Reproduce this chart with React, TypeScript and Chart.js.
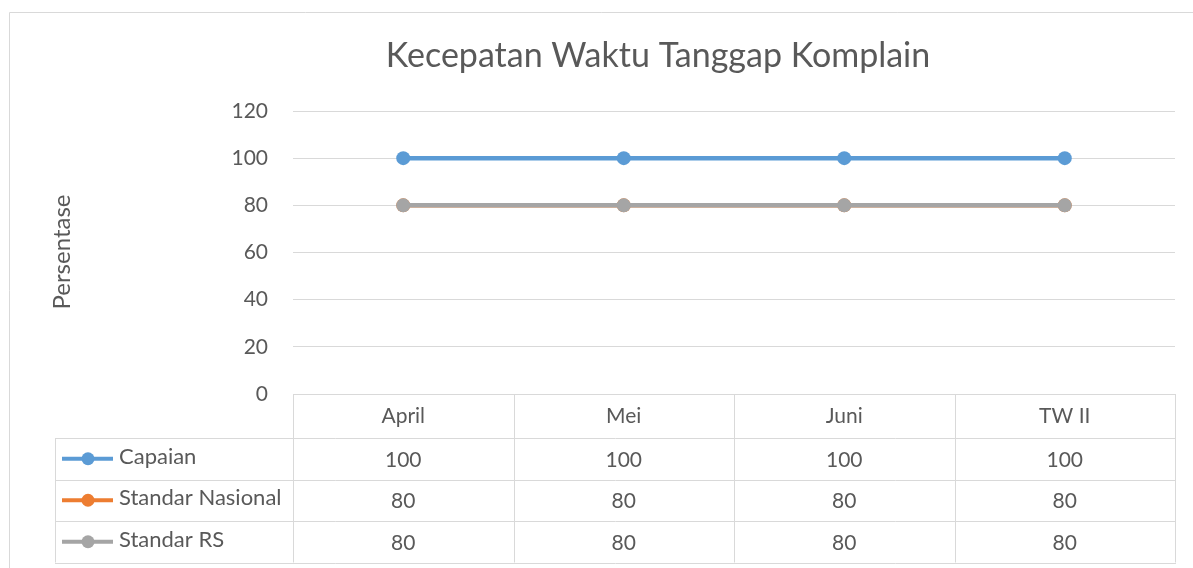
import React, { useEffect, useRef } from "react";
import { Chart, registerables } from "chart.js";

Chart.register(...registerables);

const chartTitle = "Kecepatan Waktu Tanggap Komplain";
const yAxisTitle = "Persentase";
const categories = ["April", "Mei", "Juni", "TW II"];
const seriesNames = ["Capaian", "Standar Nasional", "Standar RS"];
const capaian = [100, 100, 100, 100];
const standarNasional = [80, 80, 80, 80];
const standarRS = [80, 80, 80, 80];
const yMin = 0;
const yMax = 120;
const yStep = 20;

const COLORS = ["#5B9BD5", "#ED7D31", "#A5A5A5"];
const TEXT = "#595959";
const GRID = "#D9D9D9";
const FONT = "Lato, 'Open Sans', sans-serif";

const W = 1193;
const H = 568;

const tablePlugin = {
  id: "excelTable",
  afterDraw(chart: any) {
    const { ctx, chartArea, scales } = chart;
    const x = scales.x;
    const left = chartArea.left;
    const right = chartArea.right;
    const top = chartArea.bottom;
    const n = categories.length;
    const colW = (right - left) / n;
    const headerH = 44;
    const rowH = 41.5;
    const legendLeft = 55;
    const tableBottom = top + headerH + rowH * 3;
    const rows = [capaian, standarNasional, standarRS];

    ctx.save();
    ctx.strokeStyle = GRID;
    ctx.lineWidth = 1;
    // outer chart border (left & top)
    ctx.beginPath();
    ctx.moveTo(9.5, H);
    ctx.lineTo(9.5, 12.5);
    ctx.lineTo(W, 12.5);
    ctx.stroke();

    // table lines
    ctx.beginPath();
    for (let i = 0; i <= n; i++) {
      const xv = Math.round(left + i * colW) + 0.5;
      ctx.moveTo(xv, top);
      ctx.lineTo(xv, tableBottom);
    }
    ctx.moveTo(legendLeft + 0.5, top + headerH);
    ctx.lineTo(legendLeft + 0.5, tableBottom);
    for (let r = 0; r <= 3; r++) {
      const yv = Math.round(top + headerH + r * rowH) + 0.5;
      ctx.moveTo(legendLeft, yv);
      ctx.lineTo(right + 1, yv);
    }
    ctx.stroke();

    // header texts
    ctx.fillStyle = TEXT;
    ctx.font = `21px ${FONT}`;
    ctx.textAlign = "center";
    ctx.textBaseline = "middle";
    categories.forEach((c, i) => {
      ctx.fillText(c, x.getPixelForValue(i), top + headerH / 2);
    });

    rows.forEach((vals, r) => {
      const cy = top + headerH + r * rowH + rowH / 2;
      ctx.textAlign = "center";
      ctx.fillStyle = TEXT;
      ctx.font = `21px ${FONT}`;
      vals.forEach((v, i) => {
        ctx.fillText(String(v), x.getPixelForValue(i), cy + 1);
      });
      // legend key
      ctx.strokeStyle = COLORS[r];
      ctx.lineWidth = 4;
      ctx.beginPath();
      ctx.moveTo(62, cy);
      ctx.lineTo(113, cy);
      ctx.stroke();
      ctx.fillStyle = COLORS[r];
      ctx.beginPath();
      ctx.arc(88, cy, 6.5, 0, Math.PI * 2);
      ctx.fill();
      ctx.fillStyle = TEXT;
      ctx.textAlign = "left";
      ctx.font = `22px ${FONT}`;
      ctx.fillText(seriesNames[r], 119, cy - 2);
    });

    // title
    ctx.fillStyle = TEXT;
    ctx.textAlign = "center";
    ctx.font = `34px ${FONT}`;
    ctx.fillText(chartTitle, 658, 56);

    // y axis title
    ctx.save();
    ctx.translate(62, 252);
    ctx.rotate(-Math.PI / 2);
    ctx.font = `24px ${FONT}`;
    ctx.fillText(yAxisTitle, 0, 0);
    ctx.restore();

    ctx.restore();
  },
};

export default function App() {
  const ref = useRef<HTMLCanvasElement | null>(null);

  useEffect(() => {
    document.body.style.margin = "0";
    const canvas = ref.current;
    if (!canvas) return;
    const datasets = [capaian, standarNasional, standarRS].map((d, i) => ({
      label: seriesNames[i],
      data: d,
      borderColor: COLORS[i],
      backgroundColor: COLORS[i],
      pointBackgroundColor: COLORS[i],
      pointBorderColor: COLORS[i],
      borderWidth: 4.5,
      pointRadius: 7,
      pointBorderWidth: 0,
      order: i === 0 ? 0 : i === 2 ? 1 : 2,
      tension: 0,
    }));
    const chart = new Chart(canvas, {
      type: "line",
      data: { labels: categories, datasets },
      options: {
        animation: false,
        responsive: false,
        devicePixelRatio: 1,
        layout: { padding: { top: 111, right: 18, left: 0, bottom: 0 } },
        plugins: {
          legend: { display: false },
          title: { display: false },
          tooltip: { enabled: false },
        },
        scales: {
          x: {
            offset: true,
            ticks: { display: false },
            grid: { display: false },
            border: { display: false },
            afterFit: (s: any) => {
              s.height = H - 394;
            },
          },
          y: {
            min: yMin,
            max: yMax,
            ticks: {
              stepSize: yStep,
              color: TEXT,
              font: { family: FONT, size: 21 },
              padding: 25,
            },
            grid: { color: GRID, lineWidth: 1, drawTicks: false },
            border: { display: false },
            afterFit: (s: any) => {
              s.width = 293;
            },
          },
        },
      },
      plugins: [tablePlugin],
    });
    return () => chart.destroy();
  }, []);

  return (
    <div style={{ width: W, height: H, position: "relative" }}>
      <canvas ref={ref} width={W} height={H} style={{ display: "block" }} />
    </div>
  );
}
